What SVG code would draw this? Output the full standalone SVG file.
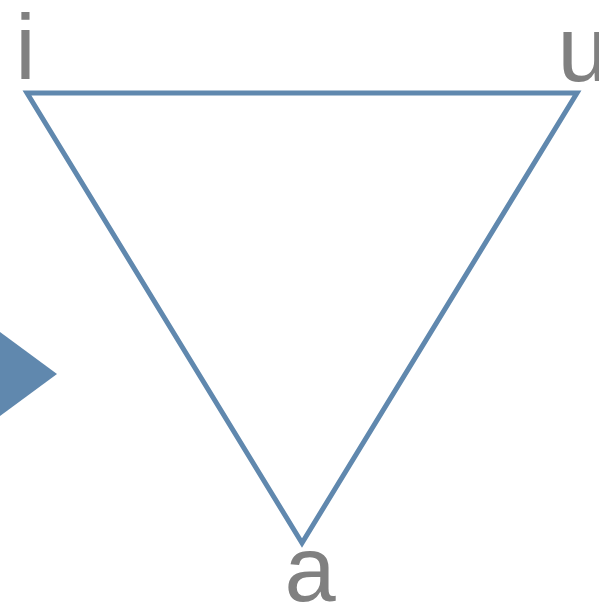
<svg xmlns="http://www.w3.org/2000/svg" width="599" height="604" viewBox="0 0 599 604">
<style>
.lbl{font-family:"Liberation Sans",Arial,sans-serif;font-size:92px;fill:#808080;text-anchor:middle}
.edge{fill:none;stroke:#6088ae;stroke-width:5;stroke-linejoin:miter}
</style>
<rect width="599" height="604" fill="#ffffff"/>
<g id="connectors">
<polygon class="edge" points="27,93 577,93 302,543"/>
</g>
<g id="arrow"><polygon points="0,332 57,374 0,416" fill="#6088ae"/></g>
<g id="node-i"><text class="lbl" x="25.5" y="79">i</text></g>
<g id="node-u"><text class="lbl" x="583" y="81">u</text></g>
<g id="node-a"><text class="lbl" x="310" y="601">a</text></g>
</svg>
